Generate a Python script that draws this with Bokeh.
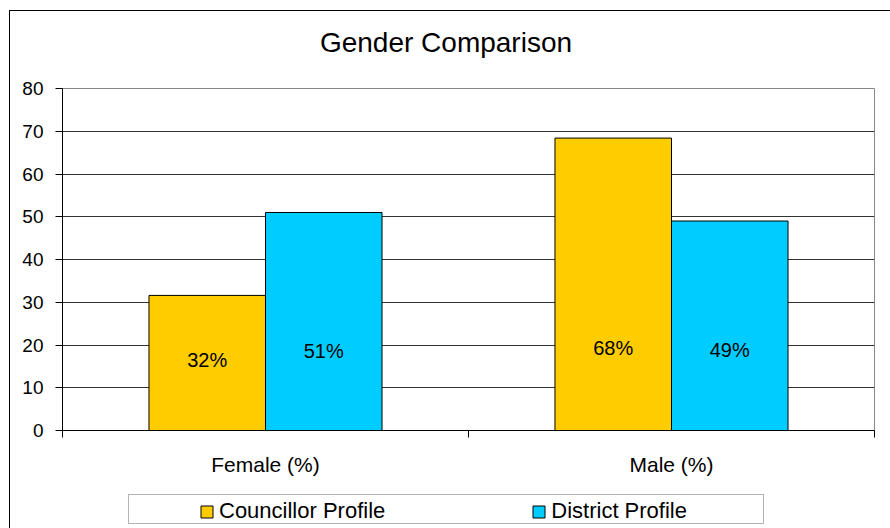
from bokeh.plotting import figure
from bokeh.layouts import column
from bokeh.models import (ColumnDataSource, Range1d, FixedTicker, LabelSet, Label,
                          Legend, LegendItem, BoxAnnotation)
from bokeh.core.properties import value
from bokeh.transform import dodge
from bokeh.embed import file_html
from bokeh.resources import INLINE

# ---- data ----
title_text = "Gender Comparison"
categories = ["Female (%)", "Male (%)"]
councillor = [31.6, 68.4]
district = [51.0, 49.0]
councillor_labels = ["32%", "68%"]
district_labels = ["51%", "49%"]
series_names = ["Councillor Profile", "District Profile"]
y_ticks = [0, 10, 20, 30, 40, 50, 60, 70, 80]

# label heights (style: where the in-bar labels sit)
councillor_label_y = [16.6, 19.2]
district_label_y = [18.6, 18.8]

FONT = "Liberation Sans"
YELLOW = "#FFCC00"
BLUE = "#00CCFF"

centers = [i + 0.5 for i in range(len(categories))]
src = ColumnDataSource(dict(
    x=centers,
    councillor=councillor,
    district=district,
    c_lab=councillor_labels,
    d_lab=district_labels,
    c_ly=councillor_label_y,
    d_ly=district_label_y,
))

W = 880
BL, BR = 52, 16          # left / right borders shared by all strips
FRAME_W = W - BL - BR    # 812 px

# ---- title strip ----
tt = figure(width=W, height=59, output_backend="svg", toolbar_location=None,
            title=None, x_range=Range1d(0, FRAME_W), y_range=Range1d(0, 59),
            x_axis_type=None, y_axis_type=None,
            min_border_left=BL, min_border_right=BR,
            min_border_top=0, min_border_bottom=0)
tt.outline_line_color = None
tt.xgrid.visible = False
tt.ygrid.visible = False
tt.add_layout(Label(x=383.5, y=28, text=title_text, text_align="center",
                    text_baseline="alphabetic", text_font=FONT,
                    text_font_size="28px", text_color="black"))

# ---- main chart ----
p = figure(width=W, height=420, output_backend="svg", toolbar_location=None,
           title=None, x_range=Range1d(0, 2), y_range=Range1d(0, 80),
           min_border_left=BL, min_border_right=BR,
           min_border_top=18, min_border_bottom=60)

bw = 0.287
r1 = p.vbar(x=dodge("x", -bw / 2, range=p.x_range), top="councillor", width=bw,
            source=src, fill_color=YELLOW, line_color="black", line_width=1)
r2 = p.vbar(x=dodge("x", bw / 2, range=p.x_range), top="district", width=bw,
            source=src, fill_color=BLUE, line_color="black", line_width=1)

for col, ycol, off in (("c_lab", "c_ly", -bw / 2), ("d_lab", "d_ly", bw / 2)):
    p.add_layout(LabelSet(x=dodge("x", off, range=p.x_range), y=ycol, text=col,
                          source=src, text_align="center", text_baseline="middle",
                          text_font=value(FONT), text_font_size=value("20px"),
                          text_color="black"))

# y axis
p.yaxis.ticker = FixedTicker(ticks=y_ticks)
p.yaxis.axis_line_color = "black"
p.yaxis.major_tick_line_color = "black"
p.yaxis.major_tick_out = 7
p.yaxis.major_tick_in = 0
p.yaxis.minor_tick_line_color = None
p.yaxis.major_label_text_font = FONT
p.yaxis.major_label_text_font_size = "19px"
p.yaxis.major_label_text_color = "black"
p.yaxis.major_label_standoff = 12

# x axis: labels at category centers, ticks at category boundaries
p.xaxis.ticker = FixedTicker(ticks=centers, minor_ticks=[0, 1, 2])
p.xaxis.major_label_overrides = {c: n for c, n in zip(centers, categories)}
p.xaxis.axis_line_color = "black"
p.xaxis.major_tick_line_color = None
p.xaxis.major_tick_out = 0
p.xaxis.major_tick_in = 0
p.xaxis.minor_tick_line_color = "black"
p.xaxis.minor_tick_out = 7
p.xaxis.minor_tick_in = 0
p.xaxis.major_label_text_font = FONT
p.xaxis.major_label_text_font_size = "21px"
p.xaxis.major_label_text_color = "black"
p.xaxis.major_label_standoff = 15

# grid
p.xgrid.visible = False
p.ygrid.ticker = FixedTicker(ticks=y_ticks[1:-1])
p.ygrid.grid_line_color = "#333333"
p.ygrid.grid_line_width = 1
p.outline_line_color = "#888888"
p.background_fill_color = "white"
p.border_fill_color = "white"

# ---- legend strip ----
lg = figure(width=W, height=38, output_backend="svg", toolbar_location=None,
            title=None, x_range=Range1d(0, FRAME_W), y_range=Range1d(0, 38),
            x_axis_type=None, y_axis_type=None,
            min_border_left=BL, min_border_right=BR,
            min_border_top=0, min_border_bottom=0)
lg.outline_line_color = None
lg.xgrid.visible = False
lg.ygrid.visible = False
nan = float("nan")
d1 = lg.vbar(x=[nan], top=[nan], width=1, fill_color=YELLOW, line_color="black")
d2 = lg.vbar(x=[nan], top=[nan], width=1, fill_color=BLUE, line_color="black")
lg.add_layout(BoxAnnotation(left=66, right=701, bottom=5, top=34,
                            fill_alpha=0, line_color="black", line_width=1))
legend = Legend(items=[LegendItem(label=series_names[0], renderers=[d1]),
                       LegendItem(label=series_names[1], renderers=[d2])],
                orientation="horizontal", location=(137, 4),
                border_line_color=None, background_fill_alpha=0,
                padding=0, margin=0, spacing=146,
                glyph_width=15, glyph_height=15, label_standoff=5,
                label_text_font=FONT, label_text_font_size="22px",
                label_text_color="black")
lg.add_layout(legend, "center")

layout = column(tt, p, lg, margin=(10, 0, 0, 9),
                styles={"border-left": "1px solid black",
                        "border-top": "1px solid black"})

open("out.html", "w").write(file_html(layout, INLINE))
